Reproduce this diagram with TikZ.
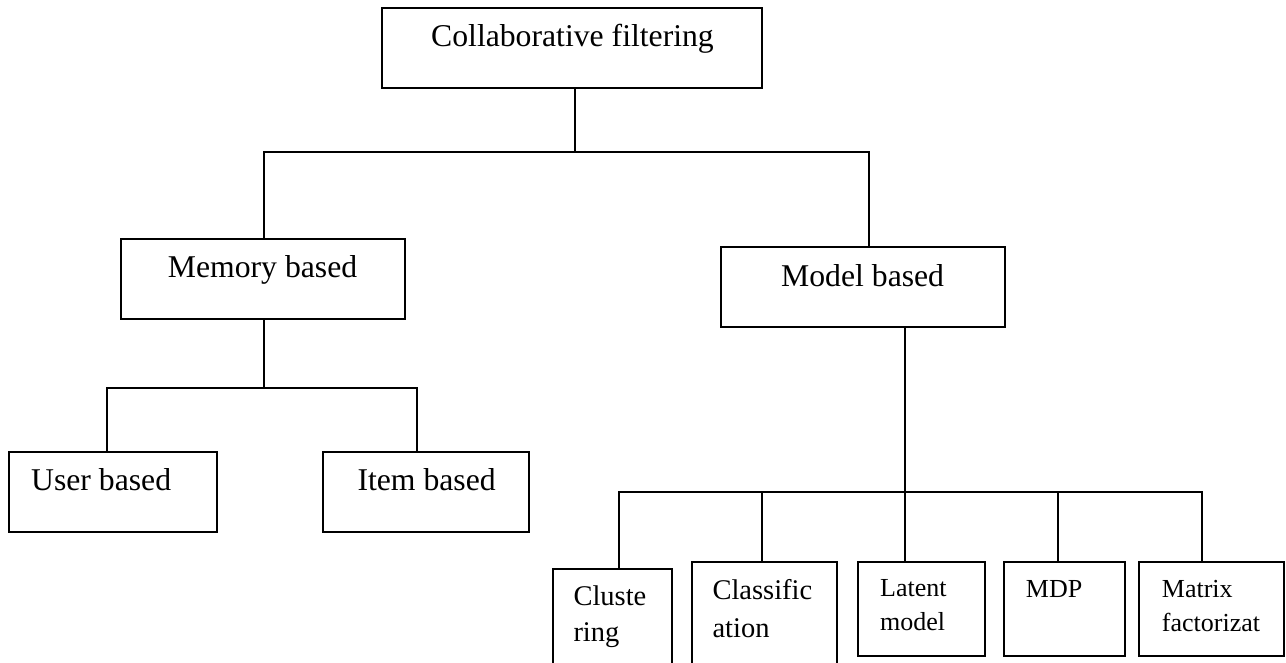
\documentclass[tikz,border=0pt]{standalone}
\usepackage{fontspec}
\setmainfont{Liberation Serif}
\begin{document}
\begin{tikzpicture}[x=1pt,y=-1pt,
  box/.style={draw=black,line width=1.8pt,inner sep=0pt,outer sep=0pt,rectangle},
  conn/.style={draw=black,line width=1.8pt},
  bigtxt/.style={anchor=base west,inner sep=0pt,font=\fontsize{31.7}{38}\selectfont},
  midtxt/.style={anchor=base west,inner sep=0pt,font=\fontsize{28.5}{34}\selectfont},
  smltxt/.style={anchor=base west,inner sep=0pt,font=\fontsize{26}{31}\selectfont}]
\useasboundingbox (0,0) rectangle (1286,662);
\clip (0,0) rectangle (1286,662);
% boxes
\node[box,minimum width=380pt,minimum height=80pt] (cf) at (572,48.3) {};
\node[box,minimum width=284pt,minimum height=80pt] (mem) at (263,278.7) {};
\node[box,minimum width=283.7pt,minimum height=80pt] (mod) at (862.9,287.3) {};
\node[box,minimum width=207.4pt,minimum height=80pt] (usr) at (113,492) {};
\node[box,minimum width=206.6pt,minimum height=80pt] (itm) at (426,492) {};
\node[box,minimum width=119pt,minimum height=130.7pt] (clu) at (612.2,634.7) {};
\node[box,minimum width=145pt,minimum height=138.3pt] (cla) at (764.2,630.9) {};
\node[box,minimum width=126.7pt,minimum height=94pt] (lat) at (921.7,608.7) {};
\node[box,minimum width=121.3pt,minimum height=94pt] (mdp) at (1064.7,608.7) {};
\node[box,minimum width=145pt,minimum height=94pt] (mat) at (1211.8,608.7) {};
% texts
\node[bigtxt] (cft) at (431,46.7) {Collaborative filtering};
\node[bigtxt] (memt) at (167.7,277) {Memory based};
\node[bigtxt] (modt) at (781,286) {Model based};
\node[bigtxt] (usrt) at (31,490.7) {User based};
\node[bigtxt] (itmt) at (357.3,490) {Item based};
\node[midtxt] (clut1) at (573.3,605) {Cluste};
\node[midtxt] (clut2) at (573.3,641.7) {ring};
\node[midtxt] (clat1) at (712.3,599.3) {Classific};
\node[midtxt] (clat2) at (712.3,637.7) {ation};
\node[smltxt] (latt1) at (880,596.7) {Latent};
\node[smltxt] (latt2) at (880,630.7) {model};
\node[smltxt] (mdpt) at (1025.7,597.3) {MDP};
\node[smltxt] (matt1) at (1161.7,597.3) {Matrix};
\node[smltxt] (matt2) at (1161.7,631.7) {factorizat};
% junction coordinates
\coordinate (j0) at (574.7,151.7);
\coordinate (jl) at (264,151.7);
\coordinate (jr) at (869.3,151.7);
\coordinate (u1) at (106.7,388.3);
\coordinate (i1) at (417.3,388.3);
\coordinate (m0) at (264,388.3);
\coordinate (k0) at (905,491.7);
\coordinate (k1) at (619,491.7);
\coordinate (k2) at (762.2,491.7);
\coordinate (k3) at (905,491.7);
\coordinate (k4) at (1058.3,491.7);
\coordinate (k5) at (1201.7,491.7);
% connectors
\draw[conn] (j0 |- cf.south) -- (j0);
\draw[conn] (jl |- mem.north) -- (jl) -- (jr) -- (jr |- mod.north);
\draw[conn] (m0 |- mem.south) -- (m0);
\draw[conn] (u1 |- usr.north) -- (u1) -- (i1) -- (i1 |- itm.north);
\draw[conn] (k0 |- mod.south) -- (k0);
\draw[conn] (k1 |- clu.north) -- (k1) -- (k5) -- (k5 |- mat.north);
\draw[conn] (k2) -- (k2 |- cla.north);
\draw[conn] (k3) -- (k3 |- lat.north);
\draw[conn] (k4) -- (k4 |- mdp.north);
\end{tikzpicture}
\end{document}
